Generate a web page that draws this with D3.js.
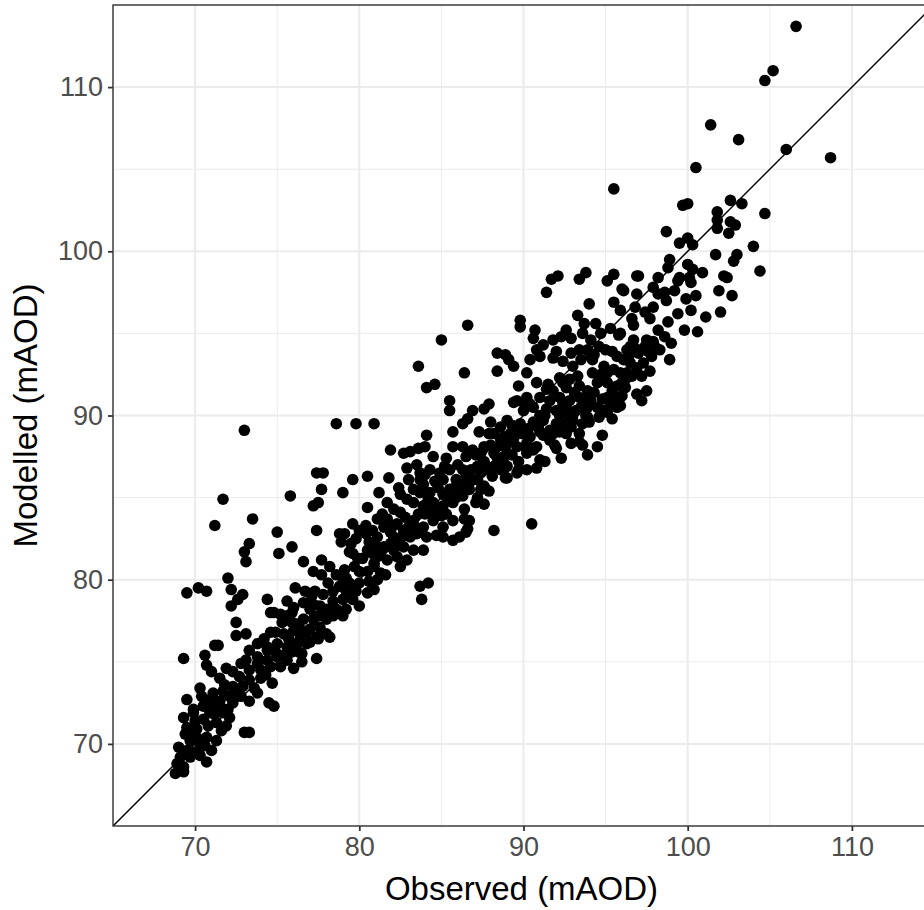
<!DOCTYPE html>
<html>
<head>
<meta charset="utf-8">
<script src="https://cdn.jsdelivr.net/npm/d3@7"></script>
<style>
  body { margin: 0; background: #fff; }
  svg { display: block; font-family: "Liberation Sans", Arial, sans-serif; }
</style>
</head>
<body>
<div id="chart"></div>
<script>
// observed vs modelled levels (mAOD)
const points = [
  [106.6,113.7],[105.2,111.0],[104.7,110.4],[101.4,107.7],[103.1,106.8],[106.0,106.2],[108.7,105.7],[100.5,105.1],[95.5,103.8],[99.7,102.8],[100.0,102.9],[102.6,103.1],[103.3,102.9],[104.7,102.3],[101.8,102.4],[101.8,101.9],[101.8,101.4],[102.6,101.8],[102.9,101.6],[102.5,101.1],[98.7,101.2],[100.0,100.8],[99.5,100.5],[100.3,100.4],[104.0,100.3],[101.7,99.8],[103.0,99.8],[102.8,99.4],[98.9,99.5],[98.8,99.0],[100.0,99.2],[100.3,98.9],[100.9,98.7],[104.4,98.8],[97.0,98.5],[102.2,98.5],[99.5,98.4],[100.1,98.4],
  [99.4,98.2],[100.2,98.1],[102.4,98.4],[96.1,97.6],[96.9,97.4],[97.9,97.8],[98.2,97.4],[98.6,97.5],[98.7,97.0],[99.9,97.1],[100.5,97.3],[101.9,97.6],[102.7,97.3],[95.9,96.4],[97.4,96.3],[97.7,95.9],[96.6,95.9],[96.7,95.5],[101.1,96.0],[102.0,96.3],[99.8,95.2],[100.6,95.1],[95.9,95.0],[96.7,94.6],[97.5,94.6],[97.9,94.5],[98.0,94.2],[97.4,94.2],[99.0,94.4],[96.3,94.0],[96.4,93.6],[96.5,93.2],[98.9,93.4],[97.3,93.2],[97.7,92.7],[96.3,92.6],[96.2,92.2],[96.2,91.7],[96.9,91.3],[97.2,90.9],[97.5,91.5],[95.9,90.6],
  [91.7,98.3],[92.1,98.5],[93.4,98.3],[93.8,98.7],[95.1,98.2],[95.5,98.6],[96.9,98.5],[91.4,97.5],[96.0,97.7],[94.0,96.8],[95.5,96.9],[93.3,96.1],[93.7,95.6],[86.6,95.5],[89.8,95.8],[89.8,95.4],[90.7,95.2],[90.6,94.7],[90.8,94.0],[92.3,94.8],[92.9,94.7],[94.7,95.0],[94.1,94.6],[93.4,94.0],[94.1,93.6],[95.8,94.9],[96.5,94.2],[85.0,94.6],[88.4,93.8],[88.9,93.7],[89.1,93.4],[89.4,93.0],[90.4,93.4],[91.0,93.6],[91.8,93.5],[92.4,93.3],[93.0,93.0],[93.9,94.0],[94.3,93.7],[94.2,93.4],[95.4,93.9],[95.7,93.6],[96.1,93.4],[83.6,93.0],[86.4,92.6],[88.4,92.7],[90.2,92.6],[92.2,92.3],[94.9,93.0],[95.1,92.6],[94.7,92.5],[95.5,92.8],[95.9,92.6],[94.5,92.0],[95.1,92.0],[95.7,91.8],[89.7,91.8],[90.8,92.0],[91.4,91.6],[91.8,91.5],[92.6,91.7],[93.4,91.8],[93.9,91.5],[84.1,91.7],[84.6,91.9],[89.6,90.9],[90.2,91.1],[91.0,91.1],[91.6,90.9],[92.2,91.1],[92.8,90.9],[93.4,91.1],[94.1,90.9],[95.1,91.1],[95.7,91.1],[85.5,90.9],[85.5,90.3],[87.9,90.7],[87.6,90.4],[89.4,90.8],[90.4,90.7],[92.4,90.7],[94.9,90.3],[86.9,90.3],[86.6,89.8],[86.3,89.5],[90.0,90.3],[90.6,90.5],[91.4,90.4],[92.0,90.3],[92.6,90.5],[93.2,90.3],[93.9,90.5],[94.5,90.5],[95.1,90.2],[95.7,90.5],[88.0,89.6],[89.0,89.7],[89.8,89.5],[91.2,89.7],[92.0,89.5],[93.0,89.7],[93.9,89.9],[88.6,89.3],[89.2,88.9],[88.2,88.9],[88.8,88.7],[89.6,89.1],[90.6,89.6],[91.6,89.1],[91.8,88.9],[92.6,88.9],[92.6,89.5],[93.6,89.5],[93.4,88.9],[94.0,89.6],
  [73.0,89.1],[78.6,89.5],[79.8,89.5],[80.9,89.5],[84.1,88.8],[85.7,89.0],[87.3,89.0],[81.9,87.9],[82.7,87.7],[83.1,87.8],[83.6,88.0],[84.0,88.1],[84.5,87.5],[85.3,87.4],[85.7,88.1],[86.3,88.1],[86.9,87.9],[87.6,88.1],[88.4,88.1],[89.0,88.3],[89.6,88.1],[90.2,88.3],[90.8,88.1],[91.6,88.5],[92.9,88.3],[93.4,88.4],[94.5,88.1],[93.9,87.6],[92.3,87.4],[91.0,87.3],[91.3,87.2],
  [86.5,87.5],[87.4,87.7],[88.2,87.7],[88.8,87.5],[90.2,87.7],[90.6,87.9],[86.3,86.7],[87.2,86.9],[87.8,86.7],[89.0,86.9],[89.7,86.7],[90.2,86.7],[89.0,86.2],[89.6,86.5],[86.3,85.7],[86.7,85.9],[87.4,85.5],[87.9,85.4],[86.3,85.1],[87.2,85.0],[87.6,84.6],[86.4,84.3],[86.4,83.7],[86.6,83.1],[88.2,83.0],[90.5,83.4],
  [82.9,86.8],[83.5,87.0],[83.7,86.5],[84.3,86.7],[84.9,86.5],[84.7,85.9],[85.5,86.7],[85.9,86.1],[87.4,86.5],[87.6,85.7],[88.2,86.9],[88.8,87.1],[88.9,86.2],[77.4,86.5],[77.8,86.5],[77.7,85.5],[79.6,86.1],[80.5,86.3],[81.8,86.2],[79.0,85.3],[81.2,85.3],[82.5,85.2],[83.7,85.3],[85.1,85.2],[75.8,85.1],[71.7,84.9],
  [83.7,86.1],[85.1,86.1],[86.5,86.3],[87.2,86.1],[83.3,85.5],[84.3,85.3],[85.5,85.5],[86.1,85.3],[86.7,85.5],[77.2,84.5],[77.5,84.7],[80.5,84.4],[81.7,84.7],[82.1,84.3],[82.5,84.1],[83.3,84.7],[83.9,84.5],[84.5,84.7],[85.1,84.5],[85.7,84.7],[87.1,84.7],[77.4,83.0],[78.8,82.8],[79.1,82.8],[79.6,83.4],[80.4,83.3],[80.4,82.8],[81.5,83.2],[81.7,83.7],[82.3,83.4],[82.7,83.0],[83.3,83.6],[83.9,83.2],[84.5,83.6],[85.1,83.2],[85.7,83.6],[86.7,83.6],[81.1,82.6],[82.1,82.6],[83.1,82.6],[84.1,82.6],[85.1,82.6],[86.1,82.6],
  [78.9,82.3],[79.5,82.2],[79.4,81.7],[79.6,81.6],[80.6,82.3],[80.5,81.8],[81.1,82.0],[82.3,82.4],[83.5,82.8],[84.7,82.7],[86.5,82.9],[85.7,82.4],[81.5,82.0],[82.1,81.8],[82.7,82.0],[83.3,81.8],[83.9,81.8],[81.1,81.4],[81.7,81.2],[82.3,81.4],[82.9,81.2],[82.5,80.8],[76.6,81.1],[77.7,81.2],[78.2,80.8],[77.2,80.5],[77.7,80.3],[78.1,79.8],[79.1,80.6],[79.7,80.8],[80.0,80.5],[80.5,80.5],[80.9,81.0],[81.3,80.4],[81.6,80.3],[79.0,79.8],[79.4,79.8],[80.0,79.8],[80.6,79.9],[81.1,80.0],[76.7,79.3],[77.3,79.3],[79.2,79.3],[79.8,79.3],[80.5,79.2],[80.9,79.4],[83.7,79.6],[84.2,79.8],[83.8,78.8],[78.4,78.7],[79.0,78.8],[79.6,78.8],[80.0,78.4],[77.0,78.2],[77.6,78.4],[78.0,78.2],[78.6,78.2],[79.2,78.2],[76.6,77.6],[77.2,77.6],[77.8,77.8],[78.4,77.8],[79.0,77.8],[76.4,77.0],[77.0,77.0],[77.6,77.1],[78.2,76.5],[76.4,76.4],[76.8,76.1],[77.5,76.4],[76.5,75.5],[76.5,75.0],[77.4,75.2],
  [73.5,83.7],[71.2,83.3],[75.0,82.9],[73.3,82.2],[73.0,81.7],[73.1,81.1],[75.9,82.0],[75.1,81.6],[72.0,80.1],[69.5,79.2],[70.2,79.5],[70.7,79.3],[72.2,79.4],[72.9,79.1],[72.6,78.8],[72.2,78.4],[76.1,79.5],[74.4,78.8],[75.6,78.7],[76.0,78.3],[74.6,78.0],[74.8,78.0],[75.6,77.8],[75.9,77.4],[77.2,78.5],[72.5,77.4],[75.3,77.4],[72.5,76.6],[73.1,76.7],[74.6,76.8],[74.2,76.4],[75.4,76.7],[76.0,76.9],[77.4,76.5],[78.0,76.7],[71.2,76.0],[71.4,76.0],[73.8,76.1],[74.4,75.9],[75.0,76.1],[75.6,75.9],[76.2,76.1],
  [69.3,75.2],[70.6,75.4],[70.7,74.8],[71.9,74.6],[72.3,74.4],[71.5,74.0],[73.3,75.7],[74.4,75.7],[73.1,75.1],[73.8,75.3],[74.4,75.1],[75.0,75.3],[75.6,75.1],[73.3,74.5],[74.0,74.5],[74.6,74.7],[75.2,74.7],[72.7,74.1],[73.3,73.9],[74.0,74.0],[72.3,73.5],[72.9,73.5],[73.6,73.4],[74.7,73.7],[71.1,73.1],[71.7,73.2],[72.1,72.9],[71.5,72.6],[72.3,72.5],[71.1,72.3],[73.3,72.6],[74.5,72.5],[74.8,72.3],[69.5,72.7],[69.9,72.1],[70.5,72.3],[70.9,71.9],[71.7,71.9],[72.1,71.6],[70.5,71.5],[71.3,71.3],[71.9,71.1],[69.3,71.6],[69.5,71.0],[70.1,70.9],[73.0,70.7],[73.3,70.7],[69.7,70.2],[70.7,70.4],[71.3,70.2],[69.5,69.6],[70.3,69.8],[71.0,69.6],[69.1,69.2],[69.7,69.2],[70.3,69.3],[70.7,68.9],[68.9,68.8],[69.3,68.6],[68.8,68.2],[69.3,68.3],
  // points hidden inside the dense core of the cloud
  [69.0,69.8],[69.4,70.6],[69.8,70.7],[70.0,71.4],[69.9,71.9],[70.4,72.9],[70.9,72.7],[71.2,71.8],[70.8,71.1],[71.6,72.2],[72.0,72.1],[71.8,73.6],[72.5,73.0],[72.8,72.9],[70.2,70.3],[69.8,69.5],[70.6,69.9],[71.6,70.8],[70.3,73.4],[71.0,74.4],
  [73.8,74.9],[74.3,74.2],[74.9,75.6],[75.4,75.4],[75.9,75.6],[76.3,75.6],[76.8,76.8],[76.2,77.3],[75.7,76.4],[74.9,76.8],[75.2,77.9],[75.9,78.0],[76.6,78.6],[77.1,79.0],[77.8,79.1],[78.4,79.3],[78.8,79.6],[78.6,80.3],[79.2,80.1],[77.5,77.8],[78.0,77.6],[77.0,76.2],[76.0,74.6],[73.8,73.1],[72.8,74.9],
  [80.2,81.3],[80.8,81.6],[81.3,81.5],[81.9,82.2],[82.6,82.6],[83.0,83.2],[83.6,83.1],[84.0,84.0],[84.6,84.2],[85.0,83.9],[85.4,84.9],[85.9,85.0],[86.0,85.8],[84.8,85.6],[83.9,85.8],[82.9,84.9],[82.1,83.3],[81.1,83.7],[80.0,83.0],[79.8,82.5],[84.2,84.9],[85.3,84.0],[80.9,80.8],[79.9,81.3],
  [86.9,86.1],[87.6,87.2],[88.1,86.3],[88.6,86.7],[88.0,88.2],[88.9,88.1],[89.3,87.6],[89.9,88.9],[90.3,89.2],[90.9,89.3],[91.3,90.0],[91.0,89.0],[90.4,88.7],[89.7,87.2],[90.8,86.8],[91.9,88.2],[92.2,89.0],[92.9,89.3],[87.1,87.6],[88.6,88.6],[89.3,89.4],[90.0,90.8],[91.0,90.0],[92.2,90.0],
  [93.0,90.0],[93.5,90.5],[94.3,91.4],[94.8,91.0],[95.4,91.5],[95.3,90.7],[96.0,91.2],[96.6,92.4],[96.9,92.9],[97.2,92.4],[96.0,92.0],[94.9,92.4],[94.2,92.6],[93.3,92.4],[93.7,91.0],[92.8,92.2],[97.0,93.8],[97.8,93.6],[98.3,94.0],[98.2,95.2],[98.8,95.7],[99.4,96.2],[100.2,96.4],
  [82.4,85.6],[83.0,86.1],[84.0,86.4],[84.6,86.0],[85.2,86.9],[86.0,87.0],[86.8,86.7],[85.8,85.6],[84.2,84.1],[83.6,84.0],[82.8,83.8],[81.4,84.0],[80.8,83.0],[81.9,82.9],
  [91.5,91.9],[92.4,92.0],[93.1,91.4],[92.7,90.1],[93.8,90.0],[94.6,89.9],[95.4,89.8],[94.8,88.8],[93.6,88.2],[92.0,88.0],[91.2,88.8],[90.2,87.9],[89.4,88.6],[88.4,87.4],[87.9,88.9],
  [94.6,94.2],[95.0,94.0],[95.3,95.3],[94.4,95.6],[93.6,95.0],[92.6,95.2],[91.8,94.6],[91.2,94.3],[92.0,93.9],[92.9,93.8],[93.5,93.4],[96.8,94.1],[97.6,93.9],[98.6,94.8],[96.8,96.6],[97.9,96.6],[99.2,97.6],[98.2,98.4]
];

const limits = [65, 115];
const majorTicks = [70, 80, 90, 100, 110];
const minorTicks = [65, 75, 85, 95, 105, 115];
const xTitle = "Observed (mAOD)";
const yTitle = "Modelled (mAOD)";

const width = 924, height = 910;
// panel is square; its right edge falls just outside the picture
const margin = { top: 5, left: 113 };
const panel = 821;

const svg = d3.select("#chart")
  .append("svg")
  .attr("width", width)
  .attr("height", height);

const x = d3.scaleLinear().domain(limits).range([margin.left, margin.left + panel]);
const y = d3.scaleLinear().domain(limits).range([margin.top + panel, margin.top]);

svg.append("defs").append("clipPath")
  .attr("id", "panel-clip")
  .append("rect")
  .attr("x", margin.left).attr("y", margin.top)
  .attr("width", panel).attr("height", panel);

const grid = svg.append("g");

// minor grid
grid.selectAll(".vminor").data(minorTicks).enter().append("line")
  .attr("x1", d => x(d)).attr("x2", d => x(d))
  .attr("y1", y(limits[0])).attr("y2", y(limits[1]))
  .attr("stroke", "#ebebeb").attr("stroke-width", 1);
grid.selectAll(".hminor").data(minorTicks).enter().append("line")
  .attr("y1", d => y(d)).attr("y2", d => y(d))
  .attr("x1", x(limits[0])).attr("x2", x(limits[1]))
  .attr("stroke", "#ebebeb").attr("stroke-width", 1);

// major grid
grid.selectAll(".vmajor").data(majorTicks).enter().append("line")
  .attr("x1", d => x(d)).attr("x2", d => x(d))
  .attr("y1", y(limits[0])).attr("y2", y(limits[1]))
  .attr("stroke", "#ebebeb").attr("stroke-width", 2);
grid.selectAll(".hmajor").data(majorTicks).enter().append("line")
  .attr("y1", d => y(d)).attr("y2", d => y(d))
  .attr("x1", x(limits[0])).attr("x2", x(limits[1]))
  .attr("stroke", "#ebebeb").attr("stroke-width", 2);

const plot = svg.append("g").attr("clip-path", "url(#panel-clip)");

plot.selectAll("circle")
  .data(points)
  .enter()
  .append("circle")
  .attr("cx", d => x(d[0]))
  .attr("cy", d => y(d[1]))
  .attr("r", 5.8)
  .attr("fill", "#000");

// 1:1 line
plot.append("line")
  .attr("x1", x(limits[0])).attr("y1", y(limits[0]))
  .attr("x2", x(limits[1])).attr("y2", y(limits[1]))
  .attr("stroke", "#000").attr("stroke-width", 1.5);

// panel border
svg.append("rect")
  .attr("x", margin.left).attr("y", margin.top)
  .attr("width", panel).attr("height", panel)
  .attr("fill", "none").attr("stroke", "#333").attr("stroke-width", 1.4);

const xAxis = svg.append("g")
  .attr("transform", `translate(0, ${margin.top + panel})`)
  .call(d3.axisBottom(x).tickValues(majorTicks).tickSize(5).tickPadding(6).tickSizeOuter(0));

const yAxis = svg.append("g")
  .attr("transform", `translate(${margin.left}, 0)`)
  .call(d3.axisLeft(y).tickValues(majorTicks).tickSize(5).tickPadding(5).tickSizeOuter(0));

[xAxis, yAxis].forEach(ax => {
  ax.select(".domain").remove();
  ax.selectAll(".tick line").attr("stroke", "#333").attr("stroke-width", 1.8);
  ax.selectAll(".tick text")
    .attr("fill", "#4d4d4d")
    .style("font-size", "27px")
    .style("font-family", "'Liberation Sans', Arial, sans-serif");
});

svg.append("text")
  .attr("x", margin.left + panel / 2 - 2)
  .attr("y", 900)
  .attr("text-anchor", "middle")
  .style("font-size", "33px")
  .attr("fill", "#000")
  .text(xTitle);

svg.append("text")
  .attr("transform", `translate(37, ${margin.top + panel / 2}) rotate(-90)`)
  .attr("text-anchor", "middle")
  .style("font-size", "33px")
  .attr("fill", "#000")
  .text(yTitle);
</script>
</body>
</html>
